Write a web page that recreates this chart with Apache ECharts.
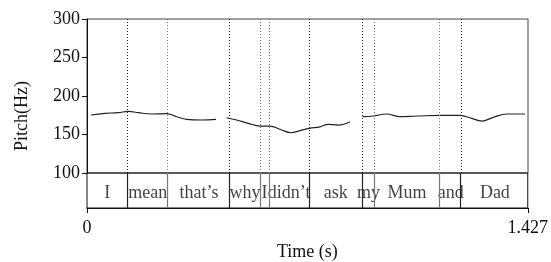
<!DOCTYPE html>
<html>
<head>
<meta charset="utf-8">
<script src="https://cdn.jsdelivr.net/npm/echarts@6/dist/echarts.min.js"></script>
<style>
  html, body { margin: 0; padding: 0; background: #fff; }
  #chart { width: 551px; height: 262px; }
</style>
</head>
<body>
<div id="chart"></div>
<script>
// word boundaries (s) and the words between them
const boundaries = [0.1317, 0.2611, 0.4637, 0.5598, 0.5899, 0.7193, 0.8921, 0.9313, 1.1416, 1.2141]
const boundaryColors = ['#222', '#777', '#222', '#777', '#777', '#222', '#222', '#777', '#777', '#222']
const words = ['I', 'mean', 'that’s', 'why', 'I', 'didn’t', 'ask', 'my', 'Mum', 'and', 'Dad']
const duration = 1.427

// pitch track, null = unvoiced gap
const pitchTimes = [0.0129, 0.0582, 0.1013, 0.1336, 0.1660, 0.2094, 0.2579, 0.2903, 0.3226, 0.3712, 0.4174, 0.43,
  0.4514, 0.4844, 0.5219, 0.5598, 0.5922, 0.6245, 0.6601, 0.6893, 0.7193, 0.7540, 0.7808, 0.8132, 0.8511, 0.87,
  0.8921, 0.9264, 0.9698, 1.0128, 1.0669, 1.1423, 1.2070, 1.2449, 1.2773, 1.3148, 1.3582, 1.4174]
const pitchHz = [175.3, 177.5, 178.3, 180.1, 178.3, 176.6, 177, 173.1, 169.7, 168.8, 169.7, null,
  171.8, 168.8, 164.5, 161, 161, 156.8, 152.3, 155, 158, 160, 163.2, 162.3, 166.6, null,
  173.1, 174, 176.6, 173.1, 174, 174.9, 174.9, 171, 167.5, 172.3, 176.6, 176.6]

const hzTicks = [100, 150, 200, 250, 300]

const font = 'Liberation Serif'
const edges = [0].concat(boundaries, [duration])
const wordData = words.map((w, i) => ({ value: [(edges[i] + edges[i + 1]) / 2, 0.43], name: w }))

let option = {
  animation: false,
  textStyle: { fontFamily: font },
  grid: [
    { left: 87, right: 23, top: 19, height: 154, show: true, borderColor: '#444', borderWidth: 1 },
    { left: 87, right: 23, top: 173, height: 39, show: true, borderColor: '#111', borderWidth: 1 }
  ],
  graphic: [{
    type: 'text',
    x: 22,
    y: 116,
    rotation: Math.PI / 2,
    style: { text: 'Pitch(Hz)', font: '18px "Liberation Serif"', fill: '#111', align: 'center', verticalAlign: 'middle' }
  }],
  xAxis: [
    { gridIndex: 0, type: 'value', min: 0, max: duration, show: false },
    {
      gridIndex: 1,
      type: 'value',
      min: 0,
      max: duration,
      axisLine: { show: true, lineStyle: { color: '#111' } },
      axisTick: { show: true, customValues: [0, duration], length: 5, lineStyle: { color: '#111' } },
      axisLabel: {
        customValues: [0, duration],
        formatter: v => (v === 0 ? '0' : String(duration)),
        fontSize: 18, color: '#111', fontFamily: font, margin: 11
      },
      splitLine: { show: false },
      name: 'Time (s)',
      nameLocation: 'middle',
      nameGap: 35,
      nameTextStyle: { fontSize: 18, color: '#111', fontFamily: font }
    }
  ],
  yAxis: [
    {
      gridIndex: 0,
      type: 'value',
      min: hzTicks[0],
      max: hzTicks[hzTicks.length - 1],
      interval: 50,
      axisLine: { show: true, lineStyle: { color: '#111' } },
      axisTick: { show: true, length: 5, lineStyle: { color: '#111' } },
      axisLabel: { fontSize: 18, color: '#111', fontFamily: font, margin: 7 },
      splitLine: { show: false }
    },
    { gridIndex: 1, type: 'value', min: 0, max: 1, show: false }
  ],
  series: [
    {
      type: 'line',
      xAxisIndex: 0,
      yAxisIndex: 0,
      data: pitchTimes.map((t, i) => [t, pitchHz[i]]),
      smooth: 0.4,
      connectNulls: false,
      showSymbol: false,
      lineStyle: { color: '#222', width: 1.2 },
      markLine: {
        silent: true,
        symbol: 'none',
        label: { show: false },
        data: boundaries.map((b, i) => ({ xAxis: b, lineStyle: { color: boundaryColors[i], type: [1, 2], width: 1 } }))
      }
    },
    {
      type: 'scatter',
      xAxisIndex: 1,
      yAxisIndex: 1,
      data: wordData,
      symbolSize: 0,
      silent: true,
      label: {
        show: true,
        position: 'inside',
        formatter: p => p.name,
        fontSize: 18,
        color: '#111',
        fontFamily: font
      },
      markLine: {
        silent: true,
        symbol: 'none',
        label: { show: false },
        data: boundaries.map((b, i) => ({ xAxis: b, lineStyle: { color: boundaryColors[i], type: 'solid', width: 1.2 } }))
      }
    }
  ]
}

const chart = echarts.init(document.getElementById('chart'), null, { renderer: 'canvas' })
chart.setOption(option)
</script>
</body>
</html>
